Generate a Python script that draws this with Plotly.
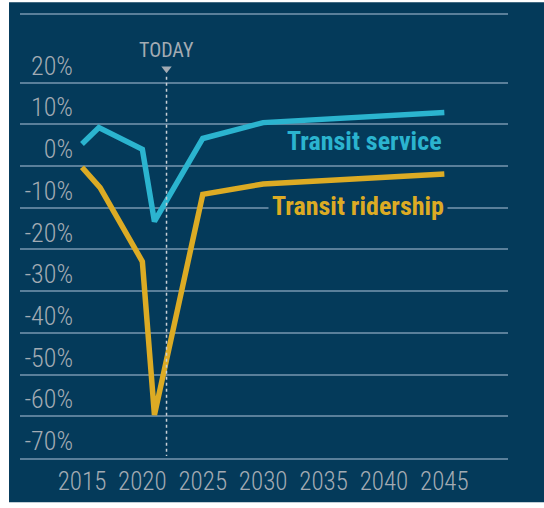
import plotly.graph_objects as go

# ---- data ----
service_years = [2015, 2016.4, 2020, 2021, 2025, 2030, 2045]
service_pct = [5.3, 9.2, 4.0, -13.3, 6.6, 10.4, 12.8]

ridership_years = [2015, 2016.5, 2020, 2021, 2025, 2030, 2045]
ridership_pct = [-0.3, -5.2, -22.9, -59.7, -6.8, -4.3, -1.9]

x_ticks = [2015, 2020, 2025, 2030, 2035, 2040, 2045]
y_ticks = [20, 10, 0, -10, -20, -30, -40, -50, -60, -70]
y_tick_labels = ["20%", "10%", "0%", "-10%", "-20%", "-30%", "-40%", "-50%", "-60%", "-70%"]

today_year = 2022
today_label = "TODAY"
series_names = ["Transit service", "Transit ridership"]

# ---- styles ----
BG = "#043a5a"
GRID = "#5a7f9a"
TICK = "#a3abb3"
CYAN = "#2bb4cf"
GOLD = "#dcab24"
NARROW = "Roboto Condensed, Liberation Sans Narrow, DejaVu Sans Condensed, Roboto, sans-serif"

fig = go.Figure()

fig.add_trace(go.Scatter(
    x=service_years, y=service_pct, mode="lines",
    line=dict(color=CYAN, width=5.5), hoverinfo="skip", showlegend=False,
))
fig.add_trace(go.Scatter(
    x=ridership_years, y=ridership_pct, mode="lines",
    line=dict(color=GOLD, width=5.5), hoverinfo="skip", showlegend=False,
))
# "today" marker triangle
fig.add_trace(go.Scatter(
    x=[today_year], y=[23.3], mode="markers",
    marker=dict(symbol="triangle-down", size=9, color=TICK),
    hoverinfo="skip", showlegend=False, cliponaxis=False,
))

# dark panel behind the chart
fig.add_shape(type="rect", xref="paper", yref="paper",
              x0=-0.0225, x1=1.08, y0=-0.1, y1=1.0288,
              fillcolor=BG, line=dict(width=0), layer="below")

# today dotted line
fig.add_shape(type="line", xref="x", yref="y",
              x0=today_year, x1=today_year, y0=21.4, y1=-69.5,
              line=dict(color="#c9cfd5", width=1.5, dash="dot"), layer="above")

fig.add_annotation(x=today_year, y=27.9, xref="x", yref="y", text=today_label,
                   showarrow=False,
                   font=dict(family=NARROW, size=20, color=TICK, weight=400))

fig.add_annotation(x=2045, y=6.1, xref="x", yref="y", text="<b>%s</b>" % series_names[0],
                   xanchor="right", yanchor="middle", showarrow=False,
                   font=dict(family=NARROW, size=26, color=CYAN))
fig.add_annotation(x=2045.3, y=-9.6, xref="x", yref="y", text="<b>%s</b>" % series_names[1],
                   xanchor="right", yanchor="middle", showarrow=False, bgcolor=BG, borderpad=3,
                   font=dict(family=NARROW, size=26, color=GOLD))

fig.update_layout(
    width=544, height=508,
    margin=dict(l=20, r=36, t=15, b=41),
    paper_bgcolor="white", plot_bgcolor=BG,
    xaxis=dict(range=[2009.87, 2050.27], tickvals=x_ticks, ticktext=[str(v) for v in x_ticks],
               showgrid=False, zeroline=False, showline=True, mirror=True,
               linecolor=GRID, linewidth=2, ticks="",
               tickfont=dict(family=NARROW, size=25, color=TICK, weight=300)),
    yaxis=dict(range=[-70, 36.2], tickvals=y_ticks, ticktext=y_tick_labels,
               showgrid=True, gridcolor=GRID, gridwidth=2, zeroline=False,
               showline=False, ticks="", ticklabelstandoff=-54, ticklabelshift=-17,
               tickfont=dict(family=NARROW, size=26, color=TICK, weight=300)),
)

fig.write_html("out.html", config={"displayModeBar": False},
               post_script="document.body.style.margin='0px';")
